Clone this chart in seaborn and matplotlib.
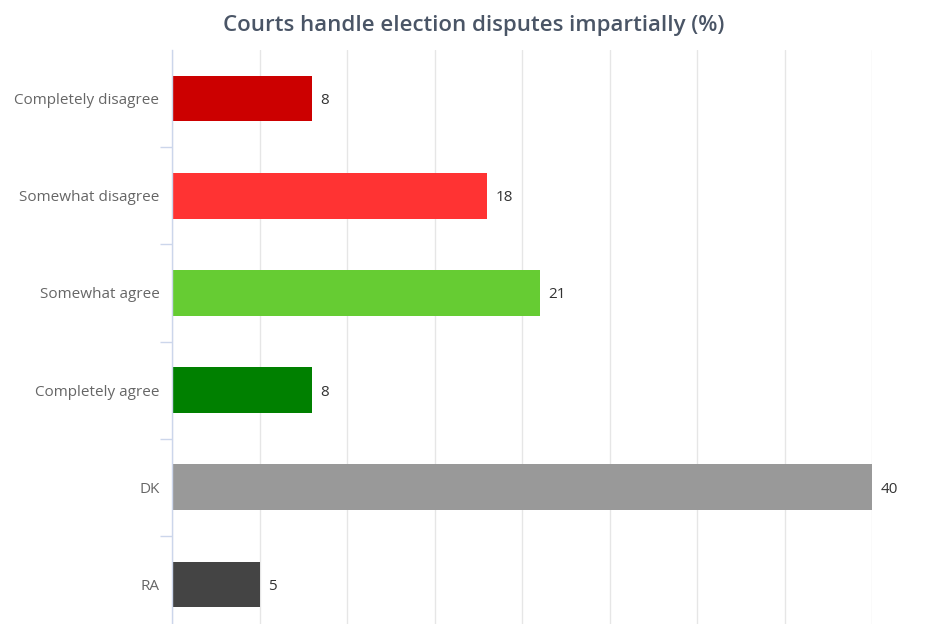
import matplotlib
matplotlib.use("Agg")
import matplotlib.pyplot as plt
import seaborn as sns
import pandas as pd
import numpy as np

categories = ["Completely disagree", "Somewhat disagree", "Somewhat agree",
              "Completely agree", "DK", "RA"]
values = [8, 18, 21, 8, 40, 5]
colors = ["#cc0000", "#ff3333", "#66cc33", "#008000", "#999999", "#444444"]
title = "Courts handle election disputes impartially (%)"

df = pd.DataFrame({"category": categories, "value": values})

sns.set_theme(style="white")
plt.rcParams["font.family"] = ["Open Sans", "DejaVu Sans"]

fig = plt.figure(figsize=(9.47, 6.24), dpi=100)
ax = fig.add_axes([172 / 947, 1 - 633 / 624, 700 / 947, 583 / 624])

sns.barplot(data=df, y="category", x="value", hue="category",
            palette=colors, order=categories, hue_order=categories,
            legend=False, orient="h", width=0.47, ax=ax, saturation=1,
            edgecolor="none")

ax.set_xlim(0, 40)
ax.set_ylim(len(categories) - 0.5, -0.5)
ax.set_xticks(np.arange(0, 41, 5))
ax.set_xticklabels([])
ax.tick_params(axis="x", length=0)
ax.xaxis.grid(True, color="#e6e6e6", linewidth=1)
ax.set_axisbelow(True)

# category labels
ax.set_yticks(range(len(categories)))
ax.set_yticklabels(categories, fontsize=11, color="#666666")
ax.tick_params(axis="y", which="major", left=False, length=0, pad=9)
# boundary ticks
ax.set_yticks(np.arange(0.5, len(categories) - 0.5, 1), minor=True)
ax.tick_params(axis="y", which="minor", left=True, length=9,
               color="#ccd6eb", width=1)

for s in ["top", "right", "bottom"]:
    ax.spines[s].set_visible(False)
ax.spines["left"].set_color("#ccd6eb")
ax.spines["left"].set_linewidth(1)

ax.set_xlabel("")
ax.set_ylabel("")

for i, v in enumerate(values):
    ax.annotate(str(v), xy=(v, i), xytext=(6, 0), textcoords="offset points",
                va="center_baseline", ha="left", fontsize=11, color="#333333")

fig.text(0.5, 1 - 25 / 624, title, ha="center", va="center",
         fontsize=16, color="#4a5566", fontweight="semibold")

fig.savefig("out.png", dpi=100)
